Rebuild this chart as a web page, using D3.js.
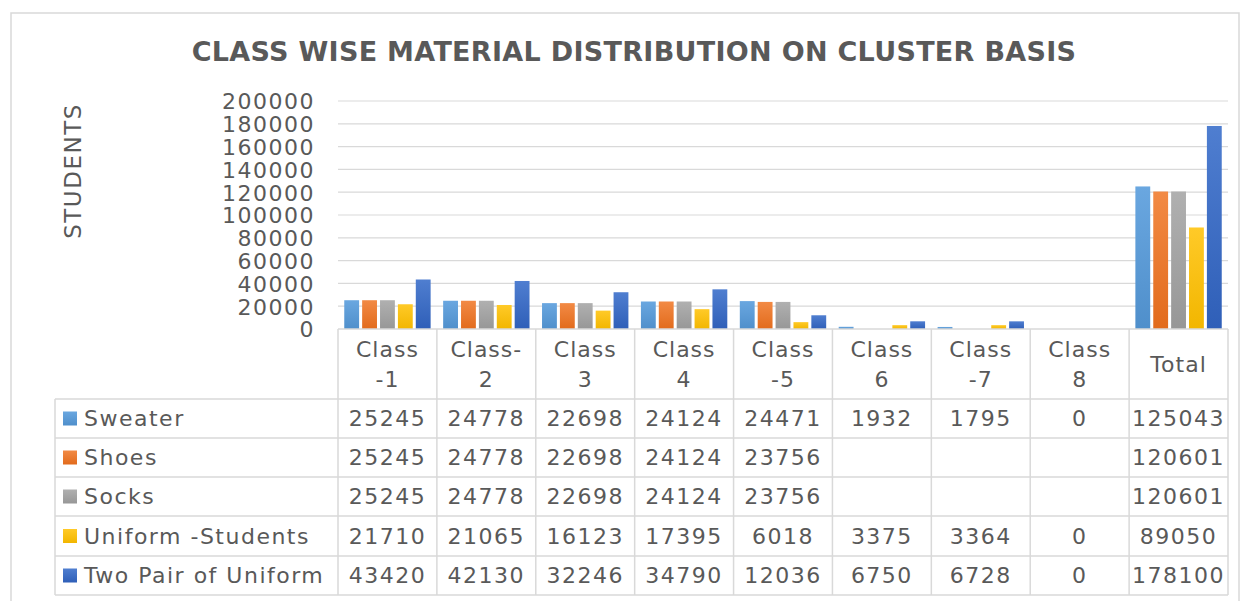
<!DOCTYPE html>
<html><head><meta charset="utf-8">
<script src="https://cdn.jsdelivr.net/npm/d3@7"></script>
<style>
body{margin:0;background:#fff;}
text{font-family:"DejaVu Sans",sans-serif;fill:#595959;}
</style></head>
<body><svg id="c" width="1245" height="601"></svg>
<script>
const categories = ["Class -1","Class- 2","Class 3","Class 4","Class -5","Class 6","Class -7","Class 8","Total"];
const catLines = [["Class","-1"],["Class-","2"],["Class","3"],["Class","4"],["Class","-5"],["Class","6"],["Class","-7"],["Class","8"],["Total"]];
const seriesNames = ["Sweater","Shoes","Socks","Uniform -Students","Two Pair of Uniform"];
const sweater = [25245,24778,22698,24124,24471,1932,1795,0,125043];
const shoes = [25245,24778,22698,24124,23756,null,null,null,120601];
const socks = [25245,24778,22698,24124,23756,null,null,null,120601];
const uniformStudents = [21710,21065,16123,17395,6018,3375,3364,0,89050];
const twoPair = [43420,42130,32246,34790,12036,6750,6728,0,178100];
const yTicks = [0,20000,40000,60000,80000,100000,120000,140000,160000,180000,200000];
const colors = [["#6aa7e0","#4f8fcb"],["#f28a45","#e26b1c"],["#b0b0b0","#979797"],["#ffca28","#f2b600"],["#4f7ed0","#2f5fb8"]];
const seriesVals = [sweater,shoes,socks,uniformStudents,twoPair];

(function(){
const svg = d3.select("#c");
const defs = svg.append("defs");
colors.forEach((c,i)=>{
  const g = defs.append("linearGradient").attr("id","g"+i).attr("x1",0).attr("y1",0).attr("x2",0).attr("y2",1);
  g.append("stop").attr("offset","0%").attr("stop-color",c[0]);
  g.append("stop").attr("offset","100%").attr("stop-color",c[1]);
});

svg.append("rect").attr("x",11).attr("y",13).attr("width",1228).attr("height",600).attr("fill","none").attr("stroke","#d9d9d9").attr("stroke-width",1.5);

svg.append("text").attr("x",634).attr("y",61).attr("text-anchor","middle")
  .style("font-size","27px").style("font-weight","bold").style("letter-spacing","0.3px").text("CLASS WISE MATERIAL DISTRIBUTION ON CLUSTER BASIS");

const pl = 338, pr = 1228, pt = 101, pb = 329;
const x = d3.scaleBand().domain(categories).range([pl,pr]);
const y = d3.scaleLinear().domain([0,200000]).range([pb,pt]);
const xs = d3.scaleBand().domain(seriesNames).range([0,x.bandwidth()]).paddingInner(0.17).paddingOuter(0.35);

svg.append("g").selectAll("line").data(yTicks.filter(d=>d>0)).join("line")
  .attr("x1",pl).attr("x2",pr).attr("y1",d=>y(d)).attr("y2",d=>y(d))
  .attr("stroke","#d9d9d9").attr("stroke-width",1.2);

const yAxis = d3.axisLeft(y).tickValues(yTicks).tickSize(0).tickPadding(0).tickFormat(d3.format("d"));
const ya = svg.append("g").attr("transform",`translate(315,0)`).call(yAxis);
ya.select(".domain").remove();
ya.selectAll("text").style("font-size","22px").style("letter-spacing","1.5px").attr("fill","#595959").style("font-family","DejaVu Sans").attr("dy","0.36em");

svg.append("text").attr("transform","translate(81,171) rotate(-90)").attr("text-anchor","middle")
  .style("font-size","23px").style("letter-spacing","1.5px").text("STUDENTS");

seriesNames.forEach((s,si)=>{
  svg.append("g").selectAll("rect").data(categories.map((c,ci)=>({c,v:seriesVals[si][ci]})).filter(d=>d.v!=null && d.v>0)).join("rect")
    .attr("x",d=>x(d.c)+xs(s)).attr("width",xs.bandwidth())
    .attr("y",d=>y(d.v)).attr("height",d=>pb-y(d.v))
    .attr("fill",`url(#g${si})`);
});

const rowTops = [329,399,438,477,516,556,595];
const tableLeft = 55;
const grid = svg.append("g").attr("stroke","#d9d9d9").attr("stroke-width",1.5);
grid.append("line").attr("x1",pl).attr("x2",pr).attr("y1",pb).attr("y2",pb);
rowTops.slice(1).forEach(yy=>grid.append("line").attr("x1",tableLeft).attr("x2",pr).attr("y1",yy).attr("y2",yy));
const vx = x.domain().map(c=>x(c)).concat([pr]);
vx.forEach(xx=>grid.append("line").attr("x1",xx).attr("x2",xx).attr("y1",pb).attr("y2",595));
grid.append("line").attr("x1",tableLeft).attr("x2",tableLeft).attr("y1",399).attr("y2",595);

categories.forEach((c,ci)=>{
  const lines = catLines[ci];
  const cx = x(c)+x.bandwidth()/2;
  const t = svg.append("text").attr("text-anchor","middle").style("font-size","22px").style("letter-spacing","1px");
  if(lines.length===2){
    t.append("tspan").attr("x",cx).attr("y",357).text(lines[0]);
    t.append("tspan").attr("x",cx).attr("y",387).text(lines[1]);
  } else {
    t.append("tspan").attr("x",cx).attr("y",372).text(lines[0]);
  }
});

seriesNames.forEach((s,si)=>{
  const yc = (rowTops[si+1]+rowTops[si+2])/2;
  svg.append("rect").attr("x",63).attr("y",yc-7).attr("width",14).attr("height",14).attr("fill",`url(#g${si})`);
  svg.append("text").attr("x",84).attr("y",yc).attr("dy","0.35em").style("font-size","22px").style("letter-spacing","1.5px").text(s);
  categories.forEach((c,ci)=>{
    const v = seriesVals[si][ci];
    if(v==null) return;
    svg.append("text").attr("x",x(c)+x.bandwidth()/2).attr("y",yc).attr("dy","0.35em").attr("text-anchor","middle")
      .style("font-size","22px").style("letter-spacing","1.5px").text(v);
  });
});
})();
</script></body></html>
